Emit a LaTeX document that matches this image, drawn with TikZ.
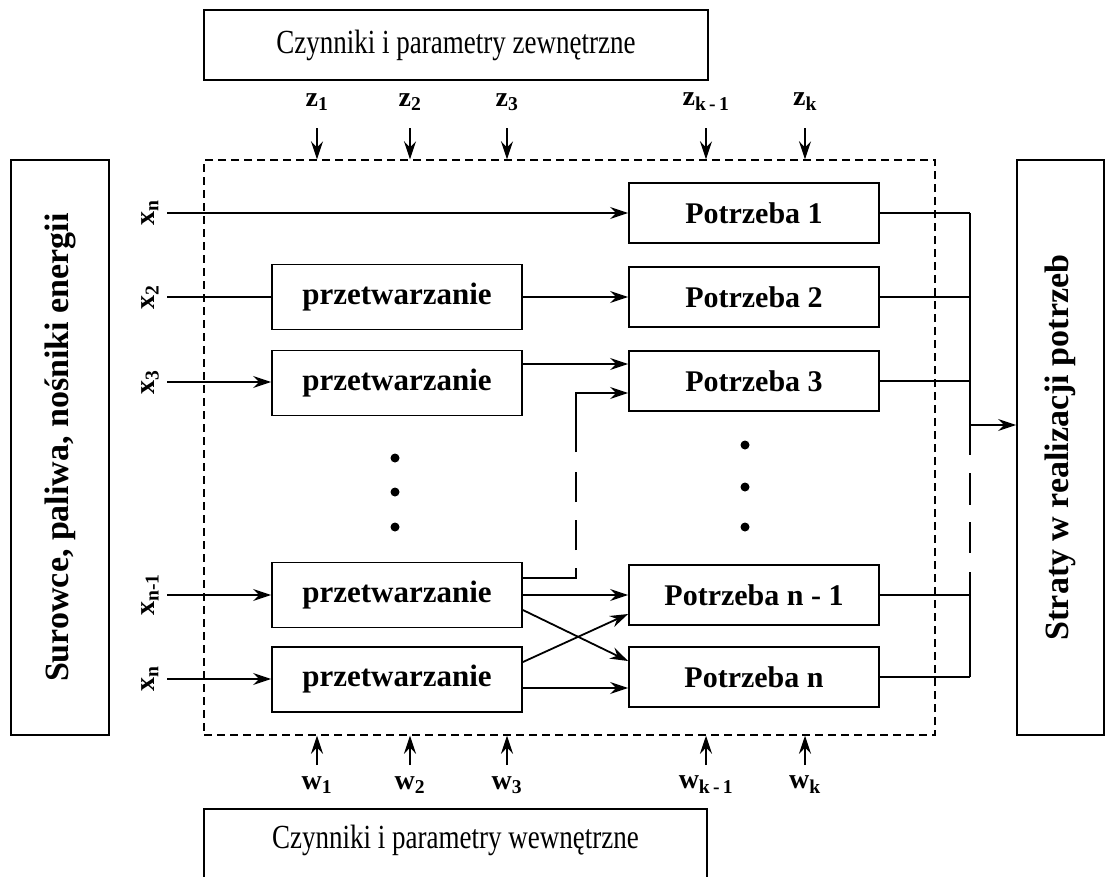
\documentclass[tikz,border=0pt]{standalone}
\usepackage{fontspec}
\usepackage{graphicx}
\setmainfont{Liberation Serif}
\usetikzlibrary{arrows.meta}
\newcommand\stretchtext[1]{\scalebox{1}[1.25]{#1}}
\begin{document}
\begin{tikzpicture}[x=1pt,y=-1pt,line width=1.8pt,
  box/.style={draw,line width=1.8pt,inner sep=0pt},
  tbox/.style={box,minimum width=250pt,minimum height=65pt,font=\bfseries\fontsize{31}{36}\selectfont},
  pbox/.style={box,minimum width=250pt,minimum height=60pt,font=\bfseries\fontsize{30}{36}\selectfont},
  sysbox/.style={draw,line width=1.4pt,dash pattern=on 8pt off 5pt,inner sep=0pt,minimum width=731pt,minimum height=575pt},
  arr/.style={-{Stealth[length=18pt,width=12pt,inset=6pt]}},
  lbl/.style={font=\bfseries\fontsize{28}{32}\selectfont,inner sep=0pt},
  side/.style={font=\bfseries\fontsize{34}{40}\selectfont,rotate=90,inner sep=0pt},
  big/.style={font=\fontsize{27}{32}\selectfont,inner sep=0pt}]
\useasboundingbox (0,0) rectangle (1115,876);

% outer frames
\node[box,minimum width=504pt,minimum height=70pt] (Z) at (456,45) {};
\node[big] at (Z.center) {\stretchtext{Czynniki i parametry zewnętrzne}};
\node[box,minimum width=503pt,minimum height=72pt] (W) at (455.5,845) {};
\node[big] at (455.5,840) {\stretchtext{Czynniki i parametry wewnętrzne}};
\node[box,minimum width=98pt,minimum height=575pt] (L) at (60,447.5) {};
\node[side] at (L.center) {Surowce, paliwa, nośniki energii};
\node[box,minimum width=87pt,minimum height=575pt] (R) at (1060.5,447.5) {};
\node[side] at (R.center) {Straty w realizacji potrzeb};
\node[sysbox] (S) at (569.5,447.5) {};

% processing blocks
\node[tbox] (T2) at (397,297) {przetwarzanie};
\node[tbox] (T3) at (397,383) {przetwarzanie};
\node[tbox] (Tm) at (397,595) {przetwarzanie};
\node[tbox] (Tn) at (397,679.5) {przetwarzanie};

% needs
\node[pbox] (P1) at (754,213) {Potrzeba 1};
\node[pbox] (P2) at (754,297) {Potrzeba 2};
\node[pbox] (P3) at (754,381) {Potrzeba 3};
\node[pbox] (Pm) at (754,595) {Potrzeba n - 1};
\node[pbox] (Pn) at (754,677) {Potrzeba n};

% input labels
\node[lbl,rotate=90] at (150,213) {x\textsubscript{n}};
\node[lbl,rotate=90] at (150,297) {x\textsubscript{2}};
\node[lbl,rotate=90] at (150,382) {x\textsubscript{3}};
\node[lbl,rotate=90] at (150,595) {x\textsubscript{n-1}};
\node[lbl,rotate=90] at (150,679) {x\textsubscript{n}};
\coordinate (s1) at (167,213);
\coordinate (s2) at (167,297);
\coordinate (s3) at (167,382);
\coordinate (sm) at (167,595);
\coordinate (sn) at (167,679);

% inputs
\draw[arr] (s1) -- (P1.west);
\draw (s2) -- (T2.west);
\draw[arr] (s3) -- (s3 -| T3.west);
\draw[arr] (sm) -- (Tm.west);
\draw[arr] (sn) -- (sn -| Tn.west);

% links between blocks
\draw[arr] (T2.east) -- (P2.west);
\coordinate (y364) at (0,364);
\draw[arr] (T3.east |- y364) -- (P3.west |- y364);
\draw[arr] (Tm.east) -- (Pm.west);
\coordinate (y610) at (0,610);
\coordinate (y661) at (0,661);
\coordinate (y662) at (0,662);
\coordinate (y614) at (0,614);
\coordinate (y688) at (0,688);
\draw[arr] (Tm.east |- y610) -- (Pn.west |- y661);
\draw[arr] (Tn.east |- y662) -- (Pm.west |- y614);
\draw[arr] (Tn.east |- y688) -- (Pn.west |- y688);

% broken return line
\coordinate (r1) at (576,578);
\coordinate (r2) at (576,568);
\coordinate (r3) at (576,452);
\coordinate (r4) at (576,393);
\draw (Tm.east |- r1) -- (r1) -- (r2);
\draw (576,550) -- (576,520);
\draw (576,502) -- (576,472);
\draw[arr] (r3) -- (r4) -- (P3.west |- r4);

% dots
\foreach \yy in {458,492,527} \fill (395,\yy) circle (4.5pt);
\foreach \yy in {445,487,527} \fill (745,\yy) circle (4.5pt);

% collector of losses
\coordinate (c) at (970,0);
\foreach \p in {P1,P2,P3,Pm,Pn} \draw (\p.east) -- (\p.east -| c);
\draw (P1.east -| c) -- (970,455);
\draw (970,473) -- (970,505);
\draw (970,522) -- (970,553);
\draw (970,572) -- (Pn.east -| c);
\coordinate (c425) at (970,425);
\draw[arr] (c425) -- (c425 -| R.west);

% external and internal factors
\foreach \xx/\t [count=\i] in {317/1,410/2,507/3,706/{k\,-\,1},805/k}{
  \node[lbl] at (\xx,102) {z\textsubscript{\t}};
  \coordinate (zt\i) at (\xx,128);
  \draw[arr] (zt\i) -- (zt\i |- S.north);
  \node[lbl] at (\xx,785) {w\textsubscript{\t}};
  \coordinate (wt\i) at (\xx,765);
  \draw[arr] (wt\i) -- (wt\i |- S.south);
}
\end{tikzpicture}
\end{document}
